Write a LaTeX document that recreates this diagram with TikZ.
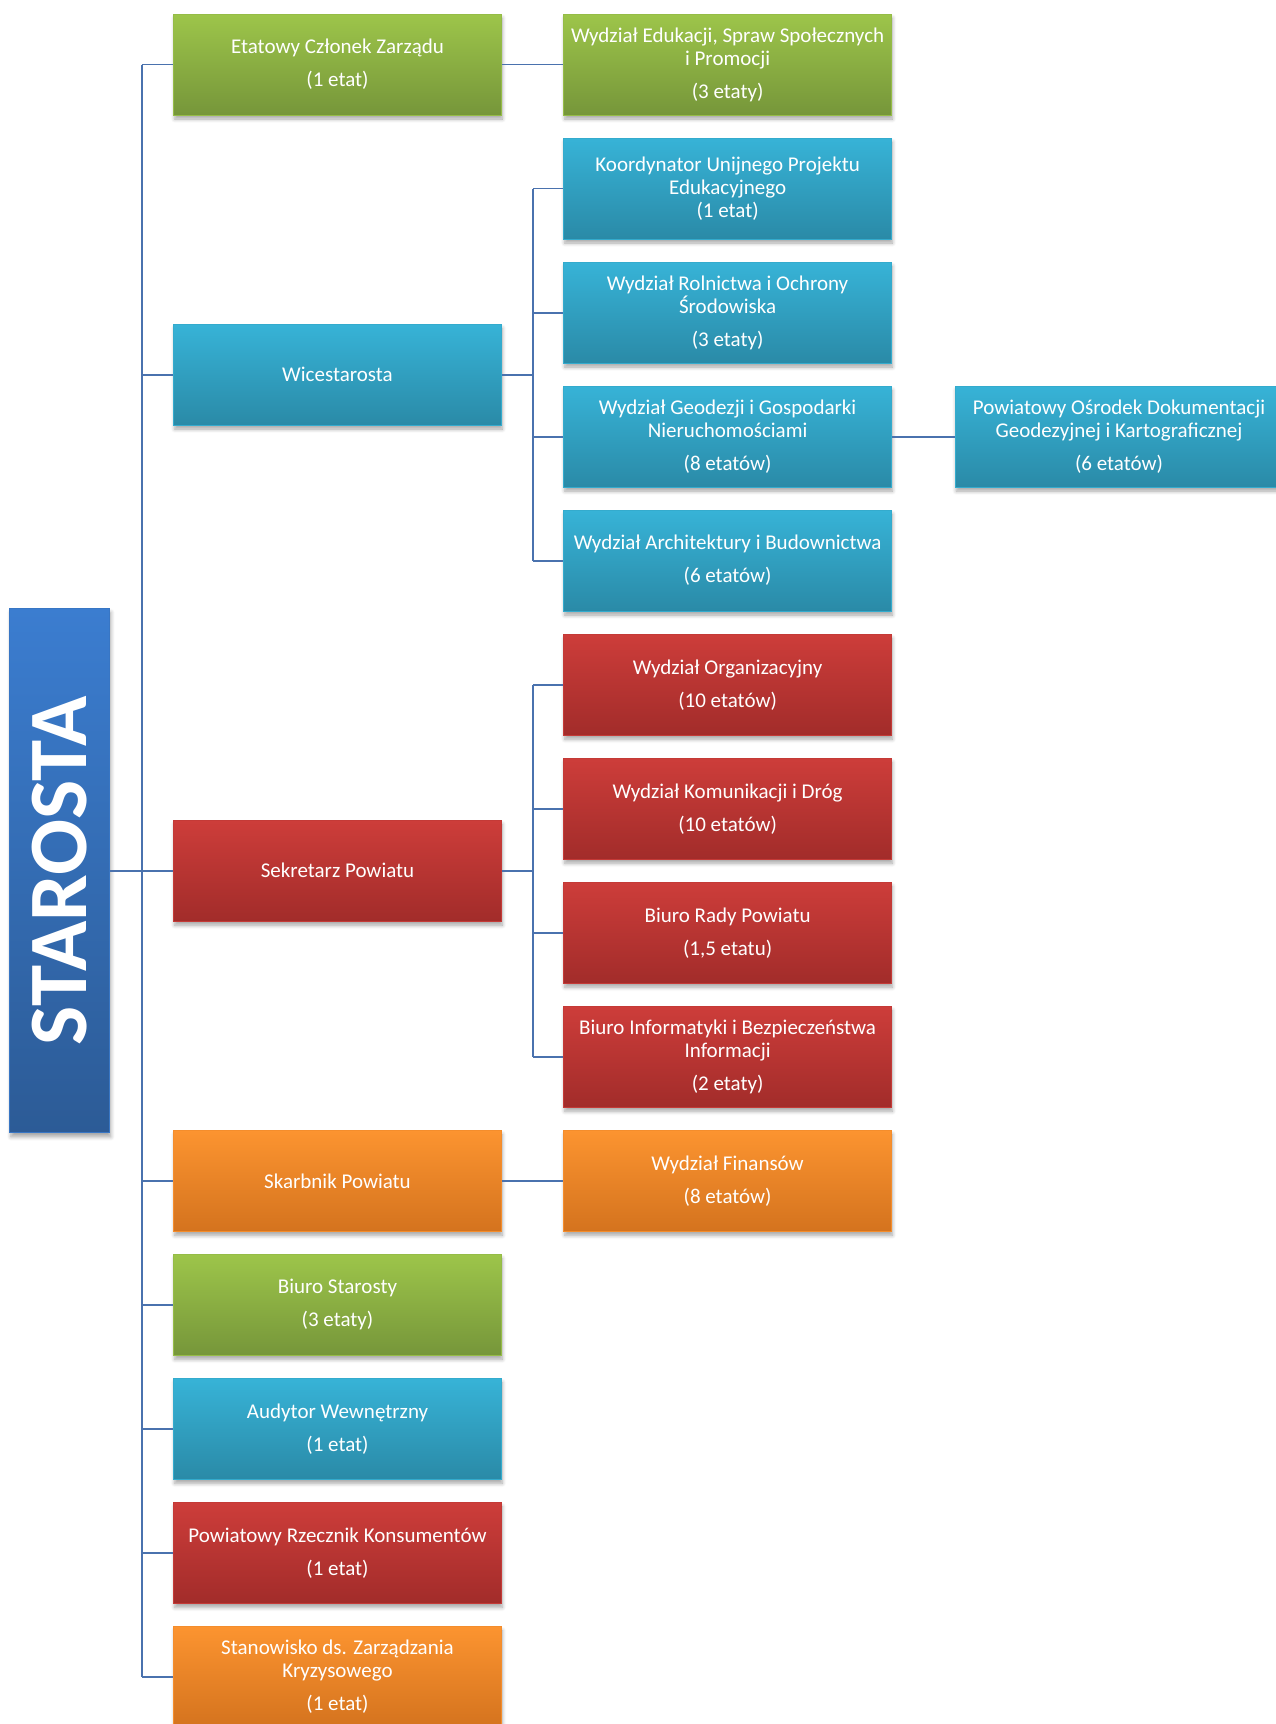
\documentclass[tikz,border=0pt]{standalone}
\usepackage{fontspec}
\setmainfont{Carlito}
\usetikzlibrary{shadows.blur}

\definecolor{grnTop}{HTML}{9DC54A}
\definecolor{grnBot}{HTML}{76963A}
\definecolor{bluTop}{HTML}{37B3D7}
\definecolor{bluBot}{HTML}{2A8AA7}
\definecolor{redTop}{HTML}{CD3D3A}
\definecolor{redBot}{HTML}{A22C2A}
\definecolor{orgTop}{HTML}{FC9430}
\definecolor{orgBot}{HTML}{D4731E}
\definecolor{staTop}{HTML}{3B7DD0}
\definecolor{staBot}{HTML}{2C5B96}
\definecolor{linkblue}{HTML}{4A72AE}

\tikzset{
  box/.style={minimum width=163.75pt, minimum height=50.5pt, inner sep=0pt,
    align=center, text=white, line width=0.5pt,
    font=\fontsize{10.5}{11.5}\selectfont,
    blur shadow={shadow xshift=0.5pt, shadow yshift=-2pt, shadow blur steps=6, shadow opacity=35}},
  grnbox/.style={box, top color=grnTop, bottom color=grnBot, draw=grnTop!80!grnBot},
  blubox/.style={box, top color=bluTop, bottom color=bluBot, draw=bluTop!80!bluBot},
  redbox/.style={box, top color=redTop, bottom color=redBot, draw=redTop!80!redBot},
  orgbox/.style={box, top color=orgTop, bottom color=orgBot, draw=orgTop!80!orgBot},
  link/.style={draw=linkblue, line width=0.9pt},
}

\begin{document}
\begin{tikzpicture}[x=0.5pt, y=-0.5pt]
    \useasboundingbox (0,0) rectangle (1275,1724);

    \node[box, minimum width=50pt, minimum height=262.25pt, top color=staTop, bottom color=staBot,
      draw=staTop!80!staBot, font=\bfseries\fontsize{41.5}{41.5}\selectfont] (starosta) at (59.9,870.7) {\rotatebox{90}{STAROSTA}};

    % first column
    \node[grnbox] (etat) at (337.5,64.5) {Etatowy Członek Zarządu\\[5pt](1 etat)};
    \node[blubox] (wice) at (337.5,374.6) {Wicestarosta};
    \node[redbox] (sekr) at (337.5,870.7) {Sekretarz Powiatu};
    \node[orgbox] (skarb) at (337.5,1180.8) {Skarbnik Powiatu};
    \node[grnbox] (biuro) at (337.5,1304.8) {Biuro Starosty\\[5pt](3 etaty)};
    \node[blubox] (audyt) at (337.5,1428.8) {Audytor Wewnętrzny\\[5pt](1 etat)};
    \node[redbox] (rzecz) at (337.5,1552.9) {Powiatowy Rzecznik Konsumentów\\[5pt](1 etat)};
    \node[orgbox] (stan) at (337.5,1676.9) {Stanowisko ds. Zarządzania\\Kryzysowego\\[5pt](1 etat)};

    % second column
    \node[grnbox] (eduk) at (727.6,64.5) {Wydział Edukacji, Spraw Społecznych\\i Promocji\\[5pt](3 etaty)};
    \node[blubox] (koord) at (727.6,188.5) {Koordynator Unijnego Projektu\\Edukacyjnego\\(1 etat)};
    \node[blubox] (roln) at (727.6,312.6) {Wydział Rolnictwa i Ochrony\\Środowiska\\[5pt](3 etaty)};
    \node[blubox] (geod) at (727.6,436.6) {Wydział Geodezji i Gospodarki\\Nieruchomościami\\[5pt](8 etatów)};
    \node[blubox] (arch) at (727.6,560.6) {Wydział Architektury i Budownictwa\\[5pt](6 etatów)};
    \node[redbox] (org) at (727.6,684.7) {Wydział Organizacyjny\\[5pt](10 etatów)};
    \node[redbox] (kom) at (727.6,808.7) {Wydział Komunikacji i Dróg\\[5pt](10 etatów)};
    \node[redbox] (rada) at (727.6,932.7) {Biuro Rady Powiatu\\[5pt](1,5 etatu)};
    \node[redbox] (inf) at (727.6,1056.7) {Biuro Informatyki i Bezpieczeństwa\\Informacji\\[5pt](2 etaty)};
    \node[orgbox] (fin) at (727.6,1180.8) {Wydział Finansów\\[5pt](8 etatów)};

    % third column
    \node[blubox] (podgik) at (1119,436.6) {Powiatowy Ośrodek Dokumentacji\\Geodezyjnej i Kartograficznej\\[5pt](6 etatów)};

    \coordinate (trunk) at (141.8,0);
    \coordinate (bus) at (533,0);

    \draw[link] (starosta.east) -- (sekr.west);
    \draw[link] (trunk |- etat.west) -- (trunk |- stan.west);
    \foreach \n in {etat,wice,sekr,skarb,biuro,audyt,rzecz,stan}
      \draw[link] (trunk |- \n.west) -- (\n.west);

    \draw[link] (etat.east) -- (eduk.west);
    \draw[link] (skarb.east) -- (fin.west);
    \draw[link] (geod.east) -- (podgik.west);

    \draw[link] (wice.east) -- (bus |- wice.east);
    \draw[link] (bus |- koord.west) -- (bus |- arch.west);
    \foreach \n in {koord,roln,geod,arch}
      \draw[link] (bus |- \n.west) -- (\n.west);

    \draw[link] (sekr.east) -- (bus |- sekr.east);
    \draw[link] (bus |- org.west) -- (bus |- inf.west);
    \foreach \n in {org,kom,rada,inf}
      \draw[link] (bus |- \n.west) -- (\n.west);
\end{tikzpicture}
\end{document}
